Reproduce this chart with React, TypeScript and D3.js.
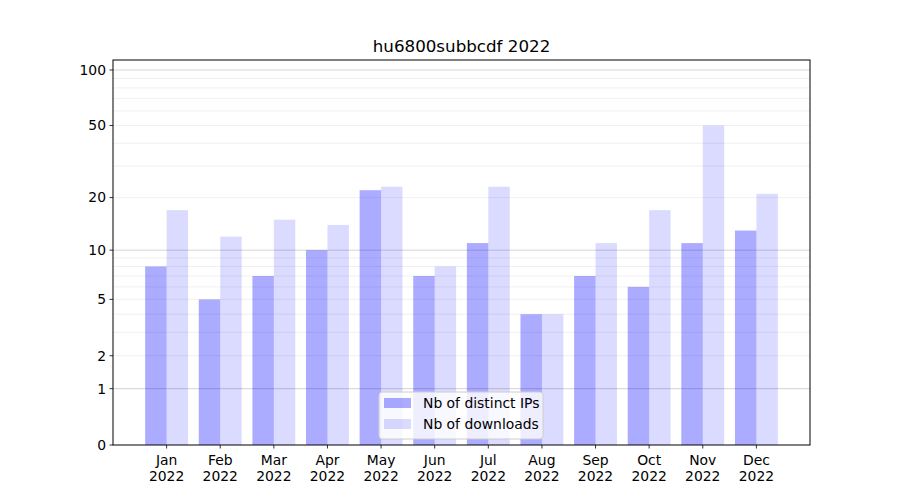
import React from "react";
import * as d3 from "d3";

const months = ["Jan", "Feb", "Mar", "Apr", "May", "Jun", "Jul", "Aug", "Sep", "Oct", "Nov", "Dec"];
const year = "2022";
const distinctIPs = [8, 5, 7, 10, 22, 7, 11, 4, 7, 6, 11, 13];
const downloads = [17, 12, 15, 14, 23, 8, 23, 4, 11, 17, 50, 21];
const yTickValues = [0, 1, 2, 5, 10, 20, 50, 100];
const majorGrid = [1, 10, 100];
const minorGrid = [2, 3, 4, 5, 6, 7, 8, 9, 20, 30, 40, 50, 60, 70, 80, 90];
const title = "hu6800subbcdf 2022";
const seriesNames = ["Nb of distinct IPs", "Nb of downloads"];
const colors = ["#ababff", "#dcdcfd"];

const W = 900, H = 500;
const L = 113, R = 810, T = 60, B = 445;
const yMax = 113.2;

export default function App() {
  const x = d3.scaleLinear().domain([-1, 12]).range([L, R]);
  const lg = d3.scaleLinear().domain([0, Math.log10(1 + yMax)]).range([B, T]);
  const y = (v: number) => lg(Math.log10(1 + v));
  const bw = x(0.4) - x(0);
  const font = "DejaVu Sans, sans-serif";
  return (
    <svg width={W} height={H} style={{ position: "absolute", left: 0, top: 0, background: "#fff" }} fontFamily={font}>
      <rect x={0} y={0} width={W} height={H} fill="#fff" />
      {minorGrid.map((v) => (
        <line key={"mi" + v} x1={L} x2={R} y1={y(v)} y2={y(v)} stroke="#ececec" strokeWidth={0.8} />
      ))}
      {majorGrid.map((v) => (
        <line key={"ma" + v} x1={L} x2={R} y1={y(v)} y2={y(v)} stroke="#c8c8c8" strokeWidth={0.8} />
      ))}
      {distinctIPs.map((v, i) => (
        <rect key={"a" + i} x={x(i) - bw} y={y(v)} width={bw} height={B - y(v)} fill="#0000ff" fillOpacity={0.33} />
      ))}
      {downloads.map((v, i) => (
        <rect key={"b" + i} x={x(i)} y={y(v)} width={bw} height={B - y(v)} fill="#0000ff" fillOpacity={0.14} />
      ))}
      <rect x={L} y={T} width={R - L} height={B - T} fill="none" stroke="#000" strokeWidth={1} />
      {yTickValues.map((v) => (
        <g key={"yt" + v}>
          <line x1={L - 3.5} x2={L} y1={y(v)} y2={y(v)} stroke="#000" strokeWidth={0.8} />
          <text x={L - 7} y={y(v)} dy="0.35em" textAnchor="end" fontSize={13.9} fill="#000">{v}</text>
        </g>
      ))}
      {months.map((m, i) => (
        <g key={"xt" + i}>
          <line x1={x(i)} x2={x(i)} y1={B} y2={B + 3.5} stroke="#000" strokeWidth={0.8} />
          <text x={x(i)} y={B + 20} textAnchor="middle" fontSize={13.9} fill="#000">{m}</text>
          <text x={x(i)} y={B + 36} textAnchor="middle" fontSize={13.9} fill="#000">{year}</text>
        </g>
      ))}
      <text x={(L + R) / 2} y={52} textAnchor="middle" fontSize={16.7} fill="#000">{title}</text>
      <g>
        <rect x={379} y={392} width={164} height={47} rx={3} fill="#fff" fillOpacity={0.8} stroke="#cccccc" strokeWidth={1} />
        {seriesNames.map((n, k) => (
          <g key={"lg" + k}>
            <rect x={384} y={398 + k * 21} width={27} height={10} fill="#0000ff" fillOpacity={k === 0 ? 0.33 : 0.14} />
            <text x={423} y={408 + k * 21} fontSize={13.9} fill="#000">{n}</text>
          </g>
        ))}
      </g>
    </svg>
  );
}
